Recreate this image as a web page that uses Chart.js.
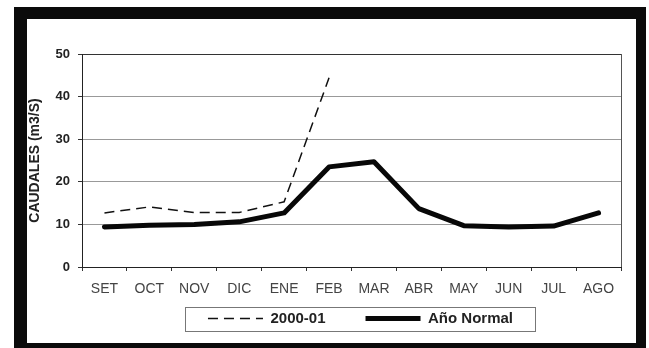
<!DOCTYPE html>
<html>
<head>
<meta charset="utf-8">
<script src="https://cdn.jsdelivr.net/npm/chart.js@4.4.0/dist/chart.umd.min.js"></script>
<style>
  body { margin: 0; background: #fff; }
  #frame {
    position: absolute; left: 14px; top: 7px; width: 632px; height: 345px;
    box-sizing: border-box; border: solid #0b0b0b; border-width: 12px 10px 9px 13px;
    background: #fff;
  }
  #chart { position: absolute; left: 0; top: 0; }
</style>
</head>
<body>
<div id="frame"></div>
<canvas id="chart" width="649" height="348"></canvas>
<script>
// months (hydrological year, Sep - Aug)
const months = ['SET', 'OCT', 'NOV', 'DIC', 'ENE', 'FEB', 'MAR', 'ABR', 'MAY', 'JUN', 'JUL', 'AGO'];
const caudal2000 = [12.7, 14.1, 12.8, 12.8, 15.3, 44.4, null, null, null, null, null, null];
const caudalNormal = [9.4, 9.8, 10.0, 10.6, 12.7, 23.5, 24.7, 13.7, 9.7, 9.4, 9.6, 12.7];
const yTicks = [0, 10, 20, 30, 40, 50];

Chart.defaults.font.family = '"Liberation Sans", Arial, sans-serif';
Chart.defaults.color = '#222';

// moves the legend under the axis, draws plot right edge and legend border
const boxPlugin = {
  id: 'boxPlugin',
  afterUpdate(chart) {
    const lg = chart.legend;
    const dx = 9;
    const dy = chart.chartArea.bottom + 4 - lg.top;
    lg.left += dx; lg.right += dx;
    lg.top += dy; lg.bottom += dy;
    lg.legendHitBoxes.forEach(h => { h.left += dx; h.top += dy; });
  },
  beforeDatasetsDraw(chart) {
    const { ctx, chartArea } = chart;
    ctx.save();
    ctx.strokeStyle = '#555';
    ctx.lineWidth = 1;
    ctx.beginPath();
    ctx.moveTo(chartArea.right + 0.5, chartArea.top);
    ctx.lineTo(chartArea.right + 0.5, chartArea.bottom);
    ctx.stroke();
    ctx.restore();
  },
  afterDraw(chart) {
    const { ctx } = chart;
    const hb = chart.legend.legendHitBoxes;
    if (!hb.length) return;
    const first = hb[0], last = hb[hb.length - 1];
    const x1 = first.left - 23, x2 = last.left + last.width + 22;
    const y1 = first.top - 4, y2 = first.top + first.height + 5;
    ctx.save();
    ctx.strokeStyle = '#777';
    ctx.lineWidth = 1;
    ctx.strokeRect(Math.round(x1) + 0.5, Math.round(y1) + 0.5, Math.round(x2 - x1), Math.round(y2 - y1));
    ctx.restore();
  }
};

new Chart(document.getElementById('chart'), {
  type: 'line',
  data: {
    labels: months,
    datasets: [
      {
        label: '2000-01',
        data: caudal2000,
        borderColor: '#111',
        borderWidth: 1.5,
        borderDash: [10, 6],
        pointRadius: 0,
        tension: 0,
        spanGaps: false
      },
      {
        label: 'Año Normal',
        data: caudalNormal,
        borderColor: '#080808',
        borderWidth: 5,
        borderJoinStyle: 'round',
        borderCapStyle: 'round',
        pointRadius: 0,
        tension: 0
      }
    ]
  },
  options: {
    responsive: false,
    animation: false,
    layout: { padding: { left: 27, right: 28, top: 54, bottom: -16 } },
    plugins: {
      tooltip: { enabled: false },
      legend: {
        position: 'bottom',
        fullSize: false,
        labels: {
          usePointStyle: true,
          pointStyle: 'line',
          pointStyleWidth: 55,
          padding: 40,
          color: '#222',
          font: { size: 15, weight: 'bold' },
          generateLabels(chart) {
            const items = Chart.defaults.plugins.legend.labels.generateLabels(chart);
            items.forEach(it => {
              const ds = chart.data.datasets[it.datasetIndex];
              it.lineDash = ds.borderDash || [];
              it.lineWidth = ds.borderWidth;
              it.strokeStyle = ds.borderColor;
              it.lineCap = 'butt';
            });
            return items;
          }
        }
      }
    },
    scales: {
      x: {
        offset: true,
        grid: { offset: true, drawOnChartArea: false, drawTicks: true, tickLength: 4, tickColor: '#333' },
        border: { color: '#222', width: 1 },
        ticks: { color: '#444', font: { size: 14 }, padding: 10, maxRotation: 0, autoSkip: false },
        afterFit(scale) { scale.height = 32; }
      },
      y: {
        min: 0,
        max: 50,
        afterBuildTicks(scale) { scale.ticks = yTicks.map(v => ({ value: v })); },
        grid: {
          color: ctx => (ctx.tick && ctx.tick.value === 50 ? '#333' : '#999'),
          tickLength: 4,
          tickColor: '#333'
        },
        border: { color: '#222', width: 1 },
        ticks: { color: '#222', font: { size: 13, weight: 'bold' }, padding: 8 },
        title: {
          display: true,
          text: 'CAUDALES (m3/S)',
          color: '#222',
          font: { size: 14, weight: 'bold' },
          padding: { top: 0, bottom: 0 }
        },
        afterFit(scale) { scale.width = 55; }
      }
    }
  },
  plugins: [boxPlugin]
});
</script>
</body>
</html>
